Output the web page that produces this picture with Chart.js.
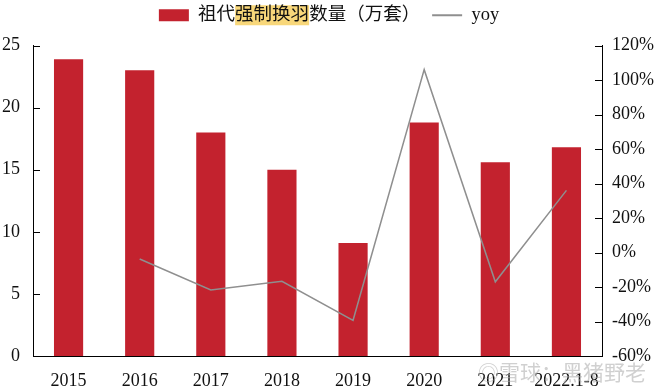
<!DOCTYPE html>
<html><head><meta charset="utf-8">
<script src="https://cdn.jsdelivr.net/npm/chart.js@4/dist/chart.umd.min.js"></script>
<style>
html,body{margin:0;padding:0;background:#fff;}
#wrap{position:relative;width:658px;height:390px;}
#wm{position:absolute;left:478px;top:356px;font:21px "Noto Sans CJK SC";color:rgba(170,170,170,0.55);white-space:nowrap;}
</style></head>
<body><div id="wrap"><canvas id="c" width="658" height="390"></canvas><div id="wm">◎雪球：黑猪野老</div></div>
<script>
const categories = ['2015','2016','2017','2018','2019','2020','2021','2022.1-8'];
const stockValues = [23.9, 23.0, 18.0, 15.0, 9.1, 18.8, 15.6, 16.8];
const yoyValues = [null, -3.8, -21.7, -16.7, -39.3, 106, -17.0, 36.0];
const leftTicks = [0, 5, 10, 15, 20, 25];
const rightTicks = [-60, -40, -20, 0, 20, 40, 60, 80, 100, 120];
const barLabel = '祖代强制换羽数量（万套）';
const lineLabel = 'yoy';

const FONT = '"Liberation Serif", "Noto Sans CJK SC", serif';
const LEGEND_FS = 18.5;

const innerTicks = {
  id: 'innerTicks',
  afterDraw(chart) {
    const ctx = chart.ctx;
    ctx.save();
    ctx.strokeStyle = '#000';
    ctx.lineWidth = 1;
    const yl = chart.scales.y, yr = chart.scales.y1;
    yl.ticks.forEach(t => {
      const p = Math.round(yl.getPixelForValue(t.value)) + 0.5;
      ctx.beginPath(); ctx.moveTo(yl.right, p); ctx.lineTo(yl.right + 7, p); ctx.stroke();
    });
    yr.ticks.forEach(t => {
      const p = Math.round(yr.getPixelForValue(t.value)) + 0.5;
      ctx.beginPath(); ctx.moveTo(yr.left, p); ctx.lineTo(yr.left - 7, p); ctx.stroke();
    });
    ctx.restore();
  }
};

const legendSpace = {
  id: 'legendSpace',
  beforeLayout(chart) {
    const lg = chart.legend;
    if (!lg || lg._patched) return;
    const orig = lg.fit;
    lg.fit = function () { orig.call(this); this.height += 11; };
    lg._patched = true;
  }
};

const highlight = {
  id: 'highlight',
  beforeDraw(chart) {
    const lg = chart.legend;
    if (!lg || !lg.legendHitBoxes || !lg.legendHitBoxes.length) return;
    const hb = lg.legendHitBoxes[0];
    const opts = lg.options.labels;
    const fs = opts.font.size;
    const ctx = chart.ctx;
    ctx.save();
    ctx.font = fs + 'px ' + FONT;
    const textX = hb.left + opts.boxWidth + fs / 2;
    const pre = ctx.measureText(barLabel.slice(0, 2)).width;
    const w = ctx.measureText(barLabel.slice(2, 6)).width;
    ctx.fillStyle = '#F8D77A';
    ctx.fillRect(textX + pre, hb.top + hb.height / 2 - 10, w, 20);
    ctx.restore();
  }
};

new Chart(document.getElementById('c'), {
  data: {
    labels: categories,
    datasets: [
      {
        type: 'line', label: lineLabel, data: yoyValues, yAxisID: 'y1',
        borderColor: '#8f8f8f', backgroundColor: '#8f8f8f', borderWidth: 1.5,
        pointRadius: 0, tension: 0, pointStyle: 'line', order: 0
      },
      {
        type: 'bar', label: barLabel, data: stockValues, yAxisID: 'y',
        backgroundColor: '#C3222E', borderWidth: 0,
        categoryPercentage: 1, barPercentage: 0.41, pointStyle: 'rect', order: 1
      }
    ]
  },
  options: {
    responsive: false, animation: false,
    layout: { padding: { top: -6, left: 0, right: 0, bottom: 0 } },
    plugins: {
      tooltip: { enabled: false },
      legend: {
        position: 'top',
        reverse: true,
        labels: {
          usePointStyle: true, pointStyleWidth: 30, boxWidth: 30, boxHeight: 12,
          padding: 12, color: '#111',
          font: { family: FONT, size: LEGEND_FS },
          generateLabels(chart) {
            const items = Chart.defaults.plugins.legend.labels.generateLabels(chart);
            items.forEach(it => {
              if (it.text === lineLabel) { it.pointStyle = 'line'; it.strokeStyle = '#8f8f8f'; it.lineWidth = 2; }
              else { it.pointStyle = 'rect'; it.lineWidth = 0; }
            });
            return items;
          }
        }
      }
    },
    scales: {
      x: {
        grid: { display: false, drawTicks: false },
        border: { display: true, color: '#000', width: 1 },
        ticks: { color: '#111', font: { family: FONT, size: 18 }, padding: 14, maxRotation: 0, autoSkip: false },
        afterFit(s) { s.height = 34; }
      },
      y: {
        position: 'left', min: 0, max: 25,
        grid: { display: false, drawTicks: false },
        border: { display: true, color: '#000', width: 1 },
        afterBuildTicks(s) { s.ticks = leftTicks.map(v => ({ value: v })); },
        ticks: { color: '#111', font: { family: FONT, size: 18 }, padding: 13 },
        afterFit(s) { s.width = 33; }
      },
      y1: {
        position: 'right', min: -60, max: 120,
        grid: { display: false, drawTicks: false },
        border: { display: true, color: '#000', width: 1 },
        afterBuildTicks(s) { s.ticks = rightTicks.map(v => ({ value: v })); },
        ticks: { color: '#111', font: { family: FONT, size: 18 }, padding: 10, callback: v => v + '%' },
        afterFit(s) { s.width = 56; }
      }
    }
  },
  plugins: [legendSpace, highlight, innerTicks]
});
</script>
</body></html>
